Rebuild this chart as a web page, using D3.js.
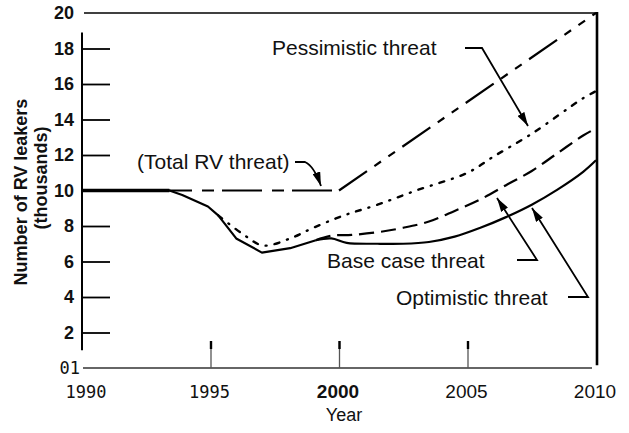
<!DOCTYPE html>
<html>
<head>
<meta charset="utf-8">
<script src="https://cdn.jsdelivr.net/npm/d3@7/dist/d3.min.js"></script>
<style>
  html, body { margin: 0; padding: 0; background: #fff; }
  svg { display: block; }
  text { fill: #111; }
</style>
</head>
<body>
<svg id="chart" width="629" height="433"></svg>
<script>
// Projected number of RV leakers (thousands), 1990-2010
const xTickYears = [1990, 1995, 2000, 2005, 2010];
const yTickValues = [2, 4, 6, 8, 10, 12, 14, 16, 18, 20];

const historyYears  = [1990, 1993.4, 1993.9, 1994.9, 1995.3, 1996.0, 1997.0, 1998.1, 1999.1];
const historyValues = [10, 10, 9.75, 9.1, 8.6, 7.3, 6.5, 6.75, 7.2];

const optimisticYears  = [1999.1, 1999.7, 2000.3, 2001.5, 2002.5, 2003.5, 2004.5, 2005.5, 2006.5, 2007.5, 2008.5, 2009.5, 2010];
const optimisticValues = [7.2, 7.3, 7.05, 7.0, 7.0, 7.1, 7.4, 7.9, 8.5, 9.2, 10.05, 11.05, 11.7];

const baseYears  = [1999.1, 1999.7, 2000.5, 2001.5, 2002.5, 2003.5, 2004.5, 2005.5, 2006.5, 2007.5, 2008.5, 2009.5, 2010];
const baseValues = [7.2, 7.45, 7.5, 7.65, 7.9, 8.25, 8.85, 9.5, 10.3, 11.1, 12.1, 13.1, 13.5];

const pessimisticYears  = [1995.3, 1996.3, 1997.05, 1998.1, 1999.0, 2000.2, 2001.5, 2003.0, 2005.0, 2006.0, 2007.5, 2009.5, 2010];
const pessimisticValues = [8.6, 7.5, 6.9, 7.3, 7.9, 8.6, 9.2, 10.0, 11.0, 11.9, 13.2, 15.2, 15.6];

const totalYears  = [1990, 2000, 2010];
const totalValues = [10, 10, 20];

const svg = d3.select("#chart");
const sans = "'Liberation Sans', Arial, Helvetica, sans-serif";
const mono = "'DejaVu Sans Mono', monospace";

const x = d3.scaleLinear().domain([1990, 2010]).range([82, 596]);
const y = d3.scaleLinear().domain([0, 20]).range([368, 13]);

const zip = (xs, vs) => xs.map((d, i) => [d, vs[i]]);
const line = d3.line().x(d => x(d[0])).y(d => y(d[1]));
const smooth = d3.line().x(d => x(d[0])).y(d => y(d[1])).curve(d3.curveCatmullRom.alpha(0.5));

// arrowhead marker
svg.append("defs").append("marker")
  .attr("id", "arrow")
  .attr("viewBox", "0 0 14 8")
  .attr("refX", 14).attr("refY", 4)
  .attr("markerWidth", 14).attr("markerHeight", 8)
  .attr("markerUnits", "userSpaceOnUse")
  .attr("orient", "auto")
  .append("path").attr("d", "M0,0 L14,4 L0,8 Z").attr("fill", "#000");

// frame: top rule, right edge, bottom axis line, left axis line
svg.append("line").attr("x1", 84).attr("x2", x(2010) + 1).attr("y1", y(20)).attr("y2", y(20))
  .attr("stroke", "#000").attr("stroke-width", 1.6);
svg.append("line").attr("x1", x(2010) + 1).attr("x2", x(2010) + 1).attr("y1", y(20) - 1).attr("y2", y(0.15))
  .attr("stroke", "#000").attr("stroke-width", 2.6);
svg.append("line").attr("x1", 83).attr("x2", 592).attr("y1", y(0)).attr("y2", y(0))
  .attr("stroke", "#333").attr("stroke-width", 1.5);
svg.append("line").attr("x1", 82).attr("x2", 82).attr("y1", y(18.9)).attr("y2", y(1))
  .attr("stroke", "#000").attr("stroke-width", 2);

// y axis: ticks drawn inward, bold labels on the left
const yAxis = d3.axisLeft(y)
  .tickValues(yTickValues)
  .tickSizeInner(-28).tickSizeOuter(0).tickPadding(8)
  .tickFormat(d3.format("d"));
const gy = svg.append("g").attr("transform", "translate(82,0)").call(yAxis);
gy.select(".domain").remove();
gy.selectAll(".tick line").attr("stroke", "#000").attr("stroke-width", 1.8)
  .filter(d => d === 20).remove();
gy.selectAll(".tick text")
  .attr("font-family", sans).attr("font-size", 18).attr("font-weight", "bold")
  .attr("fill", "#111");
svg.append("text").attr("x", 80).attr("y", y(0)).attr("dy", "0.35em")
  .attr("text-anchor", "end").attr("font-family", mono).attr("font-size", 17)
  .text("01");

// x axis: short upward ticks at inner years
const xMarks = d3.axisBottom(x)
  .tickValues(xTickYears.filter(d => d > 1990 && d < 2010))
  .tickSizeInner(-27).tickSizeOuter(0).tickFormat("");
const gx = svg.append("g").attr("transform", `translate(0,${y(0)})`).call(xMarks);
gx.select(".domain").remove();
gx.selectAll(".tick line").attr("stroke", "#555").attr("stroke-width", 1.3);
gx.selectAll(".tick").append("line")
  .attr("y1", -27).attr("y2", -19).attr("stroke", "#000").attr("stroke-width", 2.4);

const xLabelStyle = {
  1990: { family: mono, weight: "normal", size: 17 },
  1995: { family: mono, weight: "normal", size: 17 },
  2000: { family: sans, weight: "bold", size: 19 },
  2005: { family: sans, weight: "normal", size: 19 },
  2010: { family: sans, weight: "normal", size: 19 }
};
svg.append("g").selectAll("text").data(xTickYears).join("text")
  .attr("x", d => x(d) + (d === 1990 ? 4 : -1))
  .attr("y", 398)
  .attr("text-anchor", "middle")
  .attr("font-family", d => xLabelStyle[d].family)
  .attr("font-weight", d => xLabelStyle[d].weight)
  .attr("font-size", d => xLabelStyle[d].size)
  .text(d => d);

svg.append("text").attr("x", 344).attr("y", 421).attr("text-anchor", "middle")
  .attr("font-family", sans).attr("font-size", 18).text("Year");

// y axis title (two lines)
svg.append("text").attr("transform", "translate(27,192) rotate(-90)")
  .attr("text-anchor", "middle").attr("font-family", sans).attr("font-size", 18)
  .attr("font-weight", "bold").text("Number of RV leakers");
svg.append("text").attr("transform", "translate(47,178) rotate(-90)")
  .attr("text-anchor", "middle").attr("font-family", sans).attr("font-size", 18)
  .attr("font-weight", "bold").text("(thousands)");

// total RV threat: flat dashed segment, then rising long-dash/dot segment
const total = zip(totalYears, totalValues);
svg.append("path").datum(total.filter(d => d[0] <= 2000)).attr("d", line)
  .attr("fill", "none").attr("stroke", "#000").attr("stroke-width", 1.8)
  .attr("stroke-dasharray", "40,10,12,8");
svg.append("path").datum(total.filter(d => d[0] >= 2000)).attr("d", line)
  .attr("fill", "none").attr("stroke", "#000").attr("stroke-width", 2.2)
  .attr("stroke-dasharray", "34,9,8,9,8,9");

// pessimistic threat: dash-dot
svg.append("path").datum(zip(pessimisticYears, pessimisticValues)).attr("d", smooth)
  .attr("fill", "none").attr("stroke", "#000").attr("stroke-width", 2.4)
  .attr("stroke-linecap", "round")
  .attr("stroke-dasharray", "5,8,1,8");

// base case threat: dashed
svg.append("path").datum(zip(baseYears, baseValues)).attr("d", smooth)
  .attr("fill", "none").attr("stroke", "#000").attr("stroke-width", 2.2)
  .attr("stroke-dasharray", "15,7");

// history and optimistic threat: solid
svg.append("path").datum(zip(historyYears, historyValues)).attr("d", line)
  .attr("fill", "none").attr("stroke", "#000").attr("stroke-width", 2.2)
  .attr("stroke-linejoin", "round");
svg.append("path").datum(zip(historyYears, historyValues).filter(d => d[0] <= 1993.4)).attr("d", line)
  .attr("fill", "none").attr("stroke", "#000").attr("stroke-width", 3.6);
svg.append("path").datum(zip(optimisticYears, optimisticValues)).attr("d", smooth)
  .attr("fill", "none").attr("stroke", "#000").attr("stroke-width", 2.2);

// annotations with leader arrows
const notes = [
  { text: "Pessimistic threat", tx: 272, ty: 55, path: "M465,48 L482,48 L528,126" },
  { text: "(Total RV threat)", tx: 137, ty: 169, path: "M295,162 L305,162 Q314,166 321,186" },
  { text: "Base case threat", tx: 327, ty: 268, path: "M517,260 L537,260 L497,198" },
  { text: "Optimistic threat", tx: 396, ty: 305, path: "M568,297 L588,297 L532,208" }
];
svg.append("g").selectAll("text").data(notes).join("text")
  .attr("x", d => d.tx).attr("y", d => d.ty)
  .attr("font-family", sans).attr("font-size", 21)
  .text(d => d.text);
svg.append("g").selectAll("path").data(notes).join("path")
  .attr("d", d => d.path).attr("fill", "none")
  .attr("stroke", "#000").attr("stroke-width", 1.8)
  .attr("marker-end", "url(#arrow)");
</script>
</body>
</html>
